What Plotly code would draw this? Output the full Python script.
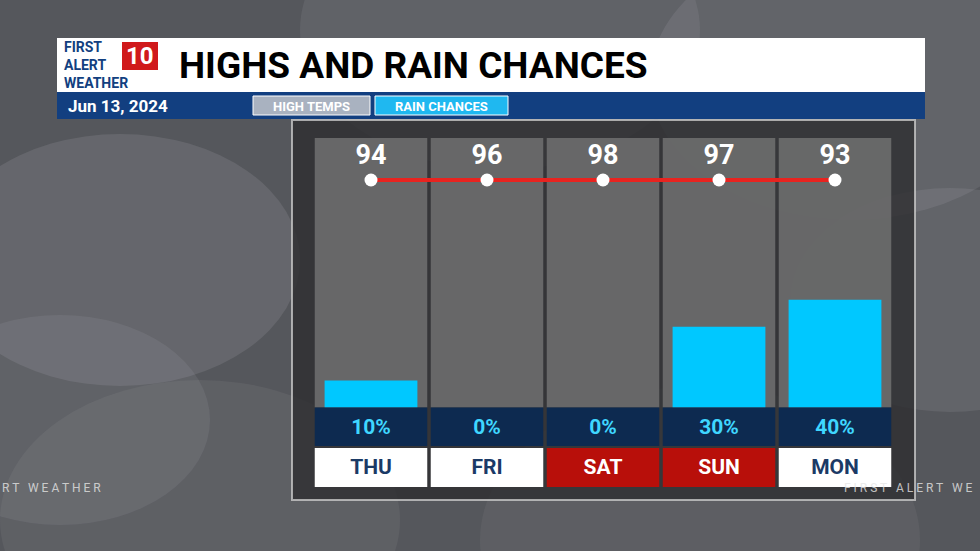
import plotly.graph_objects as go

days = ["THU", "FRI", "SAT", "SUN", "MON"]
highs = [94, 96, 98, 97, 93]
rain = [10, 0, 0, 30, 40]
day_colors = ["white", "white", "#b80f0a", "#b80f0a", "white"]
day_text = ["#1b3a66", "#1b3a66", "white", "white", "#1b3a66"]

W, H = 980, 551
def py(p):
    return 1 - p / H

fig = go.Figure()
x = list(range(len(days)))

# gray column panels
fig.add_trace(go.Bar(x=x, y=[100] * 5, base=0, width=0.97,
                     marker=dict(color="rgba(120,120,120,0.75)", line_width=0), hoverinfo="skip"))
# rain bars
fig.add_trace(go.Bar(x=x, y=rain, base=0, width=0.8,
                     marker=dict(color="#00c8ff", line_width=0), hoverinfo="skip"))
# percent row
fig.add_trace(go.Bar(x=x, y=[14.3] * 5, base=-14.3, width=0.97,
                     marker=dict(color="#0d2a50", line_width=0),
                     text=[f"{r}%" for r in rain], textposition="inside", insidetextanchor="middle",
                     textfont=dict(color="#3fd6ff", size=21, family="Roboto", weight="bold"),
                     hoverinfo="skip"))
# day row
fig.add_trace(go.Bar(x=x, y=[14.5] * 5, base=-29.5, width=0.97,
                     marker=dict(color=day_colors, line_width=0),
                     text=days, textposition="inside", insidetextanchor="middle",
                     textfont=dict(color=day_text, size=21, family="Roboto", weight="bold"),
                     hoverinfo="skip"))
# high temps line
fig.add_trace(go.Scatter(x=x, y=["high"] * 5, yaxis="y2", mode="lines+markers+text",
                         line=dict(color="#e8231f", width=4), cliponaxis=False,
                         marker=dict(color="white", size=13),
                         text=[str(h) for h in highs], textposition="top center",
                         textfont=dict(color="white", size=27, family="Roboto", weight="bold"),
                         hoverinfo="skip"))

shapes = []
# cloud-ish background blobs
for cx, cy, r, a in [(120, 260, 180, 0.14), (60, 420, 150, 0.10), (850, 80, 200, 0.12),
                     (950, 300, 160, 0.12), (500, 30, 200, 0.10), (200, 520, 200, 0.08),
                     (700, 540, 220, 0.07)]:
    shapes.append(dict(type="circle", xref="paper", yref="paper",
                       x0=(cx - r) / W, x1=(cx + r) / W, y0=py(cy + r * 0.7), y1=py(cy - r * 0.7),
                       fillcolor=f"rgba(200,200,205,{a})", line_width=0, layer="below"))
# outer frame
shapes.append(dict(type="rect", xref="paper", yref="paper", x0=292 / W, x1=915 / W,
                   y0=py(500), y1=py(120), fillcolor="rgba(45,45,48,0.8)",
                   line=dict(color="rgba(200,200,200,0.8)", width=2), layer="below"))
# header
shapes.append(dict(type="rect", xref="paper", yref="paper", x0=57 / W, x1=925 / W,
                   y0=py(92), y1=py(38), fillcolor="white", line_width=0, layer="below"))
shapes.append(dict(type="rect", xref="paper", yref="paper", x0=57 / W, x1=925 / W,
                   y0=py(119), y1=py(92), fillcolor="#123f80", line_width=0, layer="below"))
shapes.append(dict(type="rect", xref="paper", yref="paper", x0=253 / W, x1=370 / W,
                   y0=py(115), y1=py(96), fillcolor="#a9b2c0", line=dict(color="white", width=1),
                   layer="below"))
shapes.append(dict(type="rect", xref="paper", yref="paper", x0=375 / W, x1=508 / W,
                   y0=py(115), y1=py(96), fillcolor="#1fb8f0", line=dict(color="white", width=1),
                   layer="below"))
shapes.append(dict(type="rect", xref="paper", yref="paper", x0=122 / W, x1=158 / W,
                   y0=py(70), y1=py(42), fillcolor="#d0191b", line_width=0, layer="below"))

ann = [
    dict(x=177 / W, y=py(65), text="HIGHS AND RAIN CHANCES", xanchor="left",
         font=dict(size=37, color="black", family="Roboto", weight="bold")),
    dict(x=66 / W, y=py(106), text="Jun 13, 2024", xanchor="left",
         font=dict(size=17, color="white", family="Roboto", weight="bold")),
    dict(x=311 / W, y=py(106), text="HIGH TEMPS", xanchor="center",
         font=dict(size=13, color="white", family="Roboto", weight="bold")),
    dict(x=441 / W, y=py(106), text="RAIN CHANCES", xanchor="center",
         font=dict(size=13, color="white", family="Roboto", weight="bold")),
    dict(x=62 / W, y=py(65), text="FIRST<br>ALERT<br>WEATHER", xanchor="left", align="left",
         font=dict(size=14, color="#123f80", family="Roboto", weight="bold")),
    dict(x=140 / W, y=py(56), text="10", xanchor="center",
         font=dict(size=24, color="white", family="Roboto", weight="bold")),
    dict(x=0, y=py(488), text="R T   W E A T H E R", xanchor="left",
         font=dict(size=12, color="rgba(230,230,230,0.8)", family="Roboto")),
    dict(x=975 / W, y=py(488), text="F I R S T   A L E R T   W E", xanchor="right",
         font=dict(size=12, color="rgba(230,230,230,0.8)", family="Roboto")),
]
for a in ann:
    a.update(xref="paper", yref="paper", showarrow=False, yanchor="middle")

fig.update_layout(
    width=W, height=H, margin=dict(l=0, r=0, t=0, b=0),
    paper_bgcolor="#55575c", plot_bgcolor="rgba(0,0,0,0)",
    barmode="overlay", showlegend=False, shapes=shapes, annotations=ann,
    xaxis=dict(domain=[313 / W, 893 / W], range=[-0.5, 4.5], visible=False, fixedrange=True),
    yaxis=dict(domain=[py(487), py(138)], range=[-29.5, 100], visible=False),
    yaxis2=dict(domain=[py(195), py(165)], anchor="x", visible=False, type="category"),
)
fig.write_html("out.html", config={"displayModeBar": False},
               post_script="document.body.style.margin='0';")
